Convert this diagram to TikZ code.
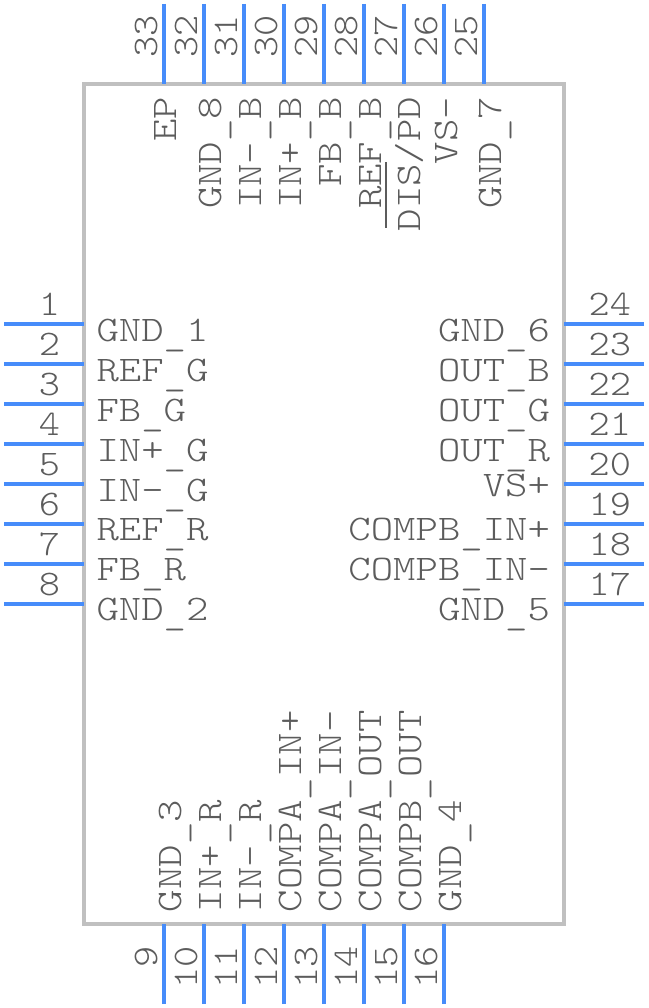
\documentclass[tikz,border=0pt]{standalone}
\usepackage{fontspec}
\newfontfamily\pinfont[FakeStretch=1.185]{Latin Modern Mono Light}
\newfontfamily\numfont[FakeStretch=1.12]{Latin Modern Mono Light}
\newcommand{\us}{\raisebox{-4pt}{\_}}
\definecolor{pinblue}{RGB}{70,140,250}
\definecolor{bodygrey}{RGB}{192,192,192}
\definecolor{txt}{RGB}{92,92,92}
\tikzset{x=1pt,y=-1pt,
 pinline/.style={draw=pinblue,line width=4pt},
 nm/.style={font=\pinfont\fontsize{36}{36}\selectfont,text=txt,inner sep=0pt,outer sep=0pt},
 numlabel/.style={font=\numfont\fontsize{36}{36}\selectfont,text=txt,inner sep=0pt,outer sep=0pt}}
\begin{document}
\begin{tikzpicture}
\useasboundingbox (0,0) rectangle (648,1008);
\fill[white] (0,0) rectangle (648,1008);
\node[draw=bodygrey,line width=4pt,minimum width=480pt,minimum height=840pt,inner sep=0pt,outer sep=0pt,anchor=north west] (body) at (84,84) {};
\foreach \i/\y in {1/324,2/364,3/404,4/444,5/484,6/524,7/564,8/604}{
 \coordinate (la\i) at (4,\y); \coordinate (lb\i) at (84,\y);
 \draw[pinline] (la\i)--(lb\i);
 \node[numlabel,anchor=base east] (nl\i) at (60,\y-9) {\i};}
\foreach \i/\y in {24/324,23/364,22/404,21/444,20/484,19/524,18/564,17/604}{
 \coordinate (ra\i) at (644,\y); \coordinate (rb\i) at (564,\y);
 \draw[pinline] (ra\i)--(rb\i);
 \node[numlabel,anchor=base east] (nr\i) at (631,\y-9) {\i};}
\foreach \i/\x in {1/164,2/204,3/244,4/284,5/324,6/364,7/404,8/444}{
 \coordinate (bc\i) at (\x,1004); \coordinate (bd\i) at (\x,924);
 \draw[pinline] (bc\i)--(bd\i);
}
\foreach \t/\x in {9/157,10/197,11/237,12/277,13/317,14/357,15/397,16/437}{
 \node[numlabel,rotate=90,anchor=base east] (nb\t) at (\x,946) {\t};}
\foreach \x in {164,204,244,284,324,364,404,444,484}{
 \coordinate (ta\x) at (\x,4); \coordinate (tb\x) at (\x,84);
 \draw[pinline] (ta\x)--(tb\x);}
\foreach \t/\x in {33/157,32/197,31/237,30/277,29/317,28/357,27/397,26/437,25/477}{
 \node[numlabel,rotate=90,anchor=base west] (nt\t) at (\x,58) {\t};}
\foreach \t/\y in {GND\us 1/341,REF\us G/381,FB\us G/421,IN+\us G/461,IN-\us G/501,REF\us R/540,FB\us R/580,GND\us 2/620}{
 \node[nm,anchor=base west] (l\y) at (96.5,\y) {\t};}
\foreach \t/\y in {GND\us 6/341,OUT\us B/381,OUT\us G/421,OUT\us R/461,VS+/496,COMPB\us IN+/540,COMPB\us IN-/580,GND\us 5/620}{
 \node[nm,anchor=base east] (r\y) at (550,\y) {\t};}
\foreach \t/\x in {EP/176.5,GND\us 8/221.5,IN-\us B/261.5,IN+\us B/301.5,FB\us B/341.5,REF\us B/381.5,{DIS/PD}/420.5,VS-/457.5,GND\us 7/501.5}{
 \node[nm,rotate=90,anchor=base east] (t\x) at (\x,97) {\t};}
\foreach \t/\x in {GND\us 3/181.5,IN+\us R/221.5,IN-\us R/261.5,COMPA\us IN+/301.5,COMPA\us IN-/341.5,COMPA\us OUT/381.5,COMPB\us OUT/421.5,GND\us 4/461.5}{
 \node[nm,rotate=90,anchor=base west] (b\x) at (\x,912) {\t};}
\coordinate (ovA) at (385.7,162); \coordinate (ovB) at (385.7,228);
\draw[draw=txt,line width=2pt] (ovA)--(ovB);
\end{tikzpicture}
\end{document}
